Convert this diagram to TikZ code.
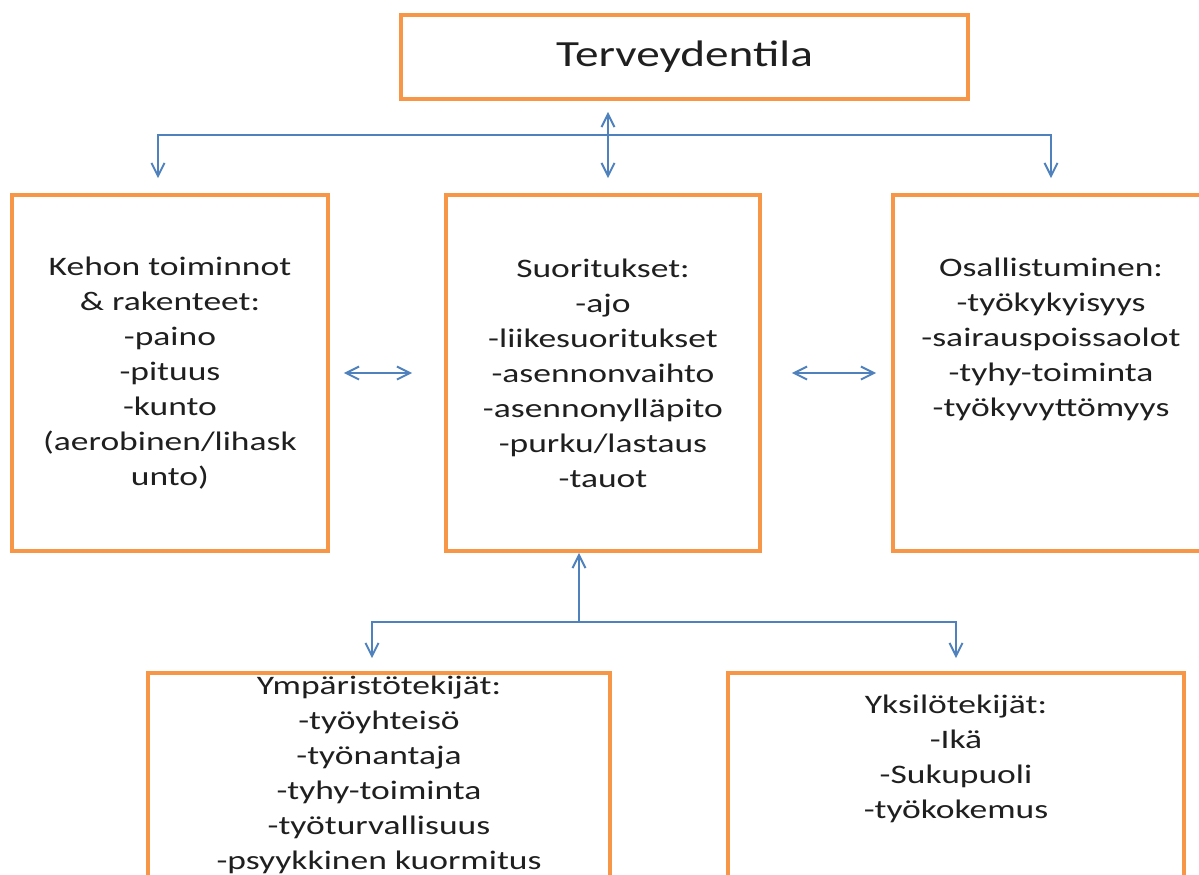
\documentclass[tikz,border=0pt]{standalone}
\usepackage{fontspec}
\setmainfont{Carlito}[FakeStretch=1.33]
\newfontfamily\otsikkofont{Carlito}[FakeStretch=1.28]
\usepackage{tikz}
\usetikzlibrary{arrows.meta,positioning,calc}
\definecolor{oranssi}{HTML}{F79646}
\definecolor{sininen}{HTML}{4F81BD}
\tikzset{
  laatikko/.style={draw=oranssi,line width=2.2pt,align=center,inner sep=0pt,
    text=black!88,font=\fontsize{15.2}{19.9}\selectfont},
  teksti/.style={align=center,inner sep=0pt,text=black!88,
    font=\fontsize{15.2}{19.9}\selectfont},
  nuoli/.style={draw=sininen,line width=1.1pt,
    -{Straight Barb[length=2.6mm,width=2.6mm,line width=1.1pt]}},
  kaksi/.style={nuoli,{Straight Barb[length=2.6mm,width=2.6mm,line width=1.1pt]}-{Straight Barb[length=2.6mm,width=2.6mm,line width=1.1pt]}},
}

\begin{document}
\begin{tikzpicture}
  \useasboundingbox (0,0) rectangle (23.98,-17.48);
  \node[laatikko,minimum width=11.34cm,minimum height=1.68cm,
    font=\otsikkofont\fontsize{21}{25}\selectfont] (terv) at (13.69,-1.14) {Terveydentila};
  \node[laatikko,minimum width=6.32cm,minimum height=7.12cm] (keho) at (3.40,-7.46)
    {Kehon toiminnot\\ \& rakenteet:\\ -paino\\ -pituus\\ -kunto\\ (aerobinen/lihask\\ unto)};
  \node[laatikko,minimum width=6.28cm,minimum height=7.12cm] (suor) at (12.06,-7.46)
    {Suoritukset:\\ -ajo\\ -liikesuoritukset\\ -asennonvaihto\\ -asennonylläpito\\ -purku/lastaus\\ -tauot};
  \node[laatikko,minimum width=6.32cm,minimum height=7.12cm] (osal) at (21.02,-7.46) {};
  \node[teksti,below=1.3cm of osal.north] (osalt)
    {Osallistuminen:\\ -työkykyisyys\\ -sairauspoissaolot\\ -tyhy-toiminta\\ -työkyvyttömyys};
  \node[laatikko,minimum width=9.24cm,minimum height=4.8cm] (ymp) at (7.58,-15.86) {};
  \node[teksti,below=0.1cm of ymp.north] (ympt)
    {Ympäristötekijät:\\ -työyhteisö\\ -työnantaja\\ -tyhy-toiminta\\ -työturvallisuus\\ -psyykkinen kuormitus};
  \node[laatikko,minimum width=9.12cm,minimum height=4.8cm] (yksi) at (19.12,-15.86) {};
  \node[teksti,below=0.48cm of yksi.north] (yksit)
    {Yksilötekijät:\\ -Ikä\\ -Sukupuoli\\ -työkokemus};
  % haarat
  \coordinate (ylahaara) at (12.16,-2.7);
  \coordinate (alahaara) at (11.58,-12.44);
  \draw[kaksi,shorten <=0.22cm,shorten >=0.3cm] ([xshift=0.1cm]suor.north |- terv.south)
    -- ([xshift=0.1cm]suor.north);
  \draw[nuoli,shorten >=0.3cm] (ylahaara) -| ([xshift=-0.24cm]keho.north);
  \draw[nuoli,shorten >=0.3cm] (ylahaara) -| (osal.north);
  \draw[kaksi,shorten <=0.28cm,shorten >=0.64cm] (keho.east) -- (suor.west);
  \draw[kaksi,shorten <=0.6cm,shorten >=0.3cm] (suor.east) -- (osal.west);
  \draw[nuoli] (alahaara) -- (alahaara |- suor.south);
  \draw[nuoli,shorten >=0.26cm] (alahaara) -| ([xshift=-0.14cm]ymp.north);
  \draw[nuoli,shorten >=0.26cm] (alahaara) -| (yksi.north);
\end{tikzpicture}
\end{document}
